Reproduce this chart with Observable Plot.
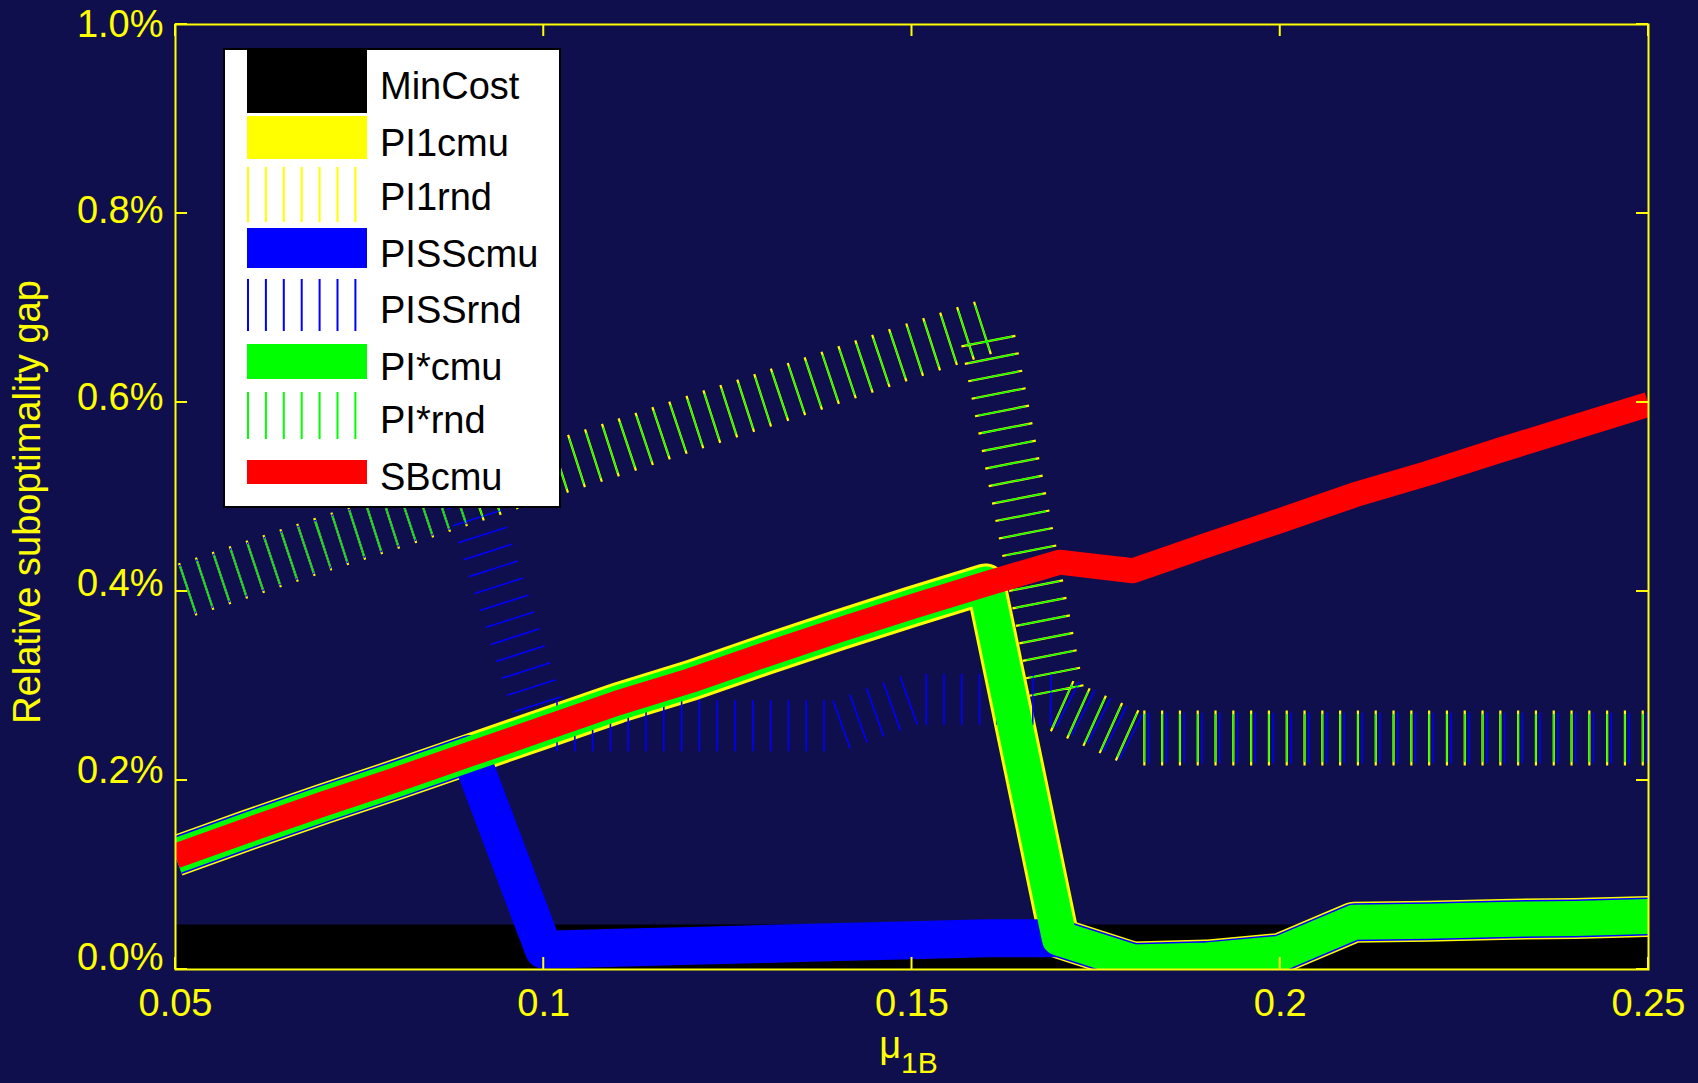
<!DOCTYPE html>
<html><head><meta charset="utf-8">
<script src="https://cdn.jsdelivr.net/npm/d3@7"></script>
<script src="https://cdn.jsdelivr.net/npm/@observablehq/plot@0.6"></script>
<style>
html,body{margin:0;padding:0;background:#100f4e;}
#wrap{position:relative;width:1698px;height:1083px;overflow:hidden;}
</style></head><body><div id="wrap"></div>
<script>
// ---- data (values in percent) ----
const xs = [0.05,0.06,0.07,0.08,0.09,0.10,0.11,0.12,0.13,0.14,0.15,0.16,0.17,0.18,0.19,0.20,0.21,0.22,0.23,0.24,0.25];
const minCost  = [0,0,0,0,0,0,0,0,0,0,0,0,0,0,0,0,0,0,0,0,0];
const pi1cmu   = [0.120,0.148,0.175,0.201,0.228,0.255,0.282,0.306,0.333,0.359,0.384,0.408,0.033,0.008,0.010,0.017,0.050,0.051,0.053,0.054,0.056];
const pi1rnd   = [0.398,0.424,0.450,0.475,0.501,0.527,0.552,0.578,0.603,0.629,0.655,0.680,0.280,0.245,0.245,0.245,0.245,0.245,0.245,0.245,0.245];
const pissCmu  = [0.120,0.148,0.175,0.201,0.228,0.021,0.023,0.025,0.027,0.029,0.031,0.033,0.033,0.008,0.010,0.017,0.050,0.051,0.053,0.054,0.056];
const pissRnd  = [0.398,0.424,0.450,0.475,0.501,0.258,0.258,0.258,0.258,0.258,0.286,0.286,0.285,0.245,0.245,0.245,0.245,0.245,0.245,0.245,0.245];
const piStarCmu= [0.120,0.148,0.175,0.201,0.228,0.255,0.282,0.306,0.333,0.359,0.384,0.408,0.033,0.008,0.010,0.017,0.050,0.051,0.053,0.054,0.056];
const piStarRnd= [0.398,0.424,0.450,0.475,0.501,0.527,0.552,0.578,0.603,0.629,0.655,0.680,0.280,0.245,0.245,0.245,0.245,0.245,0.245,0.245,0.245];
const sbCmu    = [0.120,0.148,0.175,0.201,0.228,0.255,0.282,0.306,0.333,0.359,0.384,0.408,0.431,0.422,0.449,0.475,0.502,0.525,0.550,0.574,0.598];

const seriesNames = ["MinCost","PI1cmu","PI1rnd","PISScmu","PISSrnd","PI*cmu","PI*rnd","SBcmu"];
const xTicks = [0.05,0.1,0.15,0.2,0.25];
const xTickLabels = ["0.05","0.1","0.15","0.2","0.25"];
const yTicks = [0,0.2,0.4,0.6,0.8,1.0];
const yTickLabels = ["0.0%","0.2%","0.4%","0.6%","0.8%","1.0%"];
const yTitle = "Relative suboptimality gap";

// ---- style ----
const W = 1698, H = 1083, ML = 175, MT = 24, MR = 50, MB = 114;
const FONT = "'Liberation Sans', Arial, Helvetica, sans-serif";
const BG = "#100f4e", AX = "#ffff00";
const YEL = "#ffff00", BLU = "#0000ff", GRN = "#00ff00", RED = "#ff0000", BLK = "#000000";

const rows = vals => xs.map((x, i) => ({x, y: vals[i]}));
const solid = (vals, color, w) => Plot.line(rows(vals), {
  x: "x", y: "y", stroke: color, strokeWidth: w,
  strokeLinejoin: "round", strokeLinecap: "butt", clip: true
});
const PERIOD = 17.8;
const hatched = (vals, color, w, dash, phase) => Plot.line(rows(vals), {
  x: "x", y: "y", stroke: color, strokeWidth: w,
  strokeLinejoin: "bevel", strokeLinecap: "butt",
  strokeDasharray: `${dash},${PERIOD - dash}`, strokeDashoffset: phase - (2.2 - dash) / 2,
  clip: true
});

const chart = Plot.plot({
  width: W, height: H,
  marginLeft: ML, marginTop: MT, marginRight: MR, marginBottom: MB,
  style: {background: BG, color: AX, fontFamily: FONT, fontSize: "38px", overflow: "visible"},
  x: {domain: [0.05, 0.25]},
  y: {domain: [0, 1]},
  marks: [
    solid(minCost, BLK, 90),
    solid(pi1cmu, YEL, 41),
    hatched(pi1rnd, YEL, 55, 2.2, 6),
    solid(pissCmu, BLU, 38),
    hatched(pissRnd, BLU, 51, 1.6, 6),
    solid(piStarCmu, GRN, 35),
    hatched(piStarRnd, GRN, 48, 1.4, 6),
    solid(sbCmu, RED, 25),
    Plot.axisX({ticks: xTicks, tickFormat: d => xTickLabels[xTicks.indexOf(d)],
      tickSize: 0, tickPadding: 20, label: null, fontSize: 38, fill: AX}),
    ...yTicks.map((t, i) => Plot.axisY({ticks: [t], tickFormat: () => yTickLabels[i],
      tickSize: 0, tickPadding: 12, label: null, fontSize: 38, fill: AX, dy: -12 * (1 - t)})),
    Plot.frame({stroke: AX, strokeWidth: 2})
  ]
});
document.getElementById("wrap").appendChild(chart);

// ---- inward ticks on all four sides, placed with Plot's scales ----
const svg = d3.select(chart);
const sx = chart.scale("x"), sy = chart.scale("y");
const TL = 12;
const x0 = ML, x1 = W - MR, y0 = MT, y1 = H - MB;
const tg = svg.append("g").attr("stroke", AX).attr("stroke-width", 2);
xTicks.forEach(t => {
  const px = sx.apply(t);
  tg.append("line").attr("x1", px).attr("x2", px).attr("y1", y1).attr("y2", y1 - TL);
  tg.append("line").attr("x1", px).attr("x2", px).attr("y1", y0).attr("y2", y0 + TL);
});
yTicks.forEach(t => {
  const py = sy.apply(t);
  tg.append("line").attr("x1", x0).attr("x2", x0 + TL).attr("y1", py).attr("y2", py);
  tg.append("line").attr("x1", x1).attr("x2", x1 - TL).attr("y1", py).attr("y2", py);
});

// ---- axis titles ----
svg.append("text")
  .attr("transform", `translate(40,502) rotate(-90)`)
  .attr("text-anchor", "middle").attr("fill", AX)
  .style("font-family", FONT).style("font-size", "38px")
  .text(yTitle);
const xt = svg.append("text")
  .attr("x", (x0 + x1) / 2 - 3).attr("y", 1058)
  .attr("text-anchor", "middle").attr("fill", AX)
  .style("font-family", FONT).style("font-size", "38px");
xt.append("tspan").text("μ");
xt.append("tspan").attr("dy", 15).style("font-size", "30px").text("1B");

// ---- legend ----
const lg = svg.append("g");
lg.append("rect").attr("x", 224).attr("y", 49).attr("width", 336).attr("height", 458)
  .attr("fill", "#ffffff").attr("stroke", "#000000").attr("stroke-width", 2);
const legendColors = [BLK, YEL, YEL, BLU, BLU, GRN, GRN, RED];
const legendHatch = [false, false, true, false, true, false, true, false];
const swatchTop = [50, 116, 167, 228, 279, 344, 392, 460];
const swatchBot = [113, 159, 222, 268, 331, 379, 439, 484];
const textBase = [99, 156, 210, 267, 323, 380, 433, 490];
seriesNames.forEach((name, i) => {
  const cy = (swatchTop[i] + swatchBot[i]) / 2, h = swatchBot[i] - swatchTop[i];
  if (legendHatch[i]) {
    lg.append("line").attr("x1", 247).attr("x2", 367).attr("y1", cy).attr("y2", cy)
      .attr("stroke", legendColors[i]).attr("stroke-width", h)
      .attr("stroke-dasharray", `2,${PERIOD - 2 + 0.1}`);
  } else {
    lg.append("rect").attr("x", 247).attr("y", swatchTop[i]).attr("width", 120).attr("height", h)
      .attr("fill", legendColors[i]);
  }
  lg.append("text").attr("x", 380).attr("y", textBase[i]).attr("fill", "#000000")
    .attr("text-anchor", "start")
    .style("font-family", FONT).style("font-size", "38px").text(name);
});
</script>
</body></html>
